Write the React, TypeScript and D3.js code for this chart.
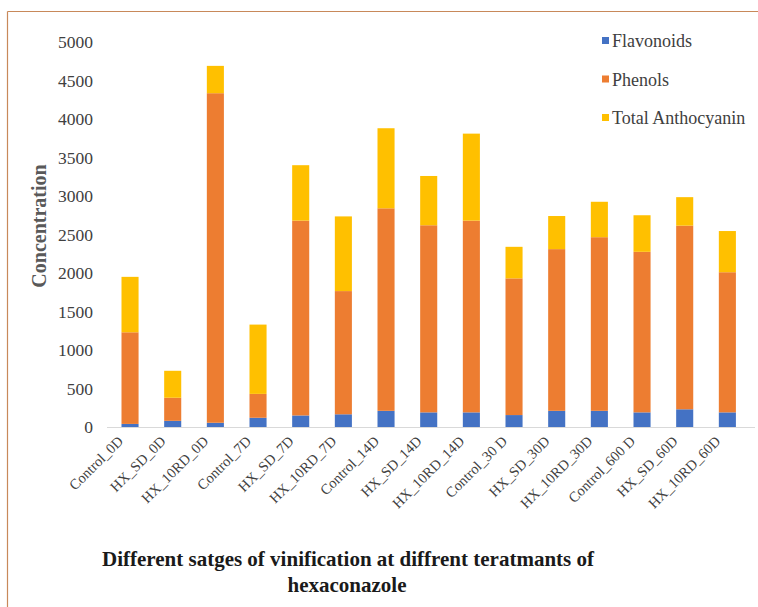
import React from "react";
import * as d3 from "d3";

const categories = [
  "Control_0D", "HX_SD_0D", "HX_10RD_0D", "Control_7D", "HX_SD_7D", "HX_10RD_7D",
  "Control_14D", "HX_SD_14D", "HX_10RD_14D", "Control_30 D", "HX_SD_30D", "HX_10RD_30D",
  "Control_600 D", "HX_SD_60D", "HX_10RD_60D",
];
const flavonoids = [40, 80, 55, 120, 150, 165, 210, 190, 190, 155, 210, 210, 190, 230, 190];
const phenols = [1190, 300, 4280, 310, 2530, 1600, 2630, 2430, 2490, 1775, 2100, 2255, 2085, 2385, 1820];
const anthocyanin = [720, 350, 355, 900, 720, 970, 1040, 640, 1130, 410, 430, 460, 475, 370, 535];
const seriesNames = ["Flavonoids", "Phenols", "Total Anthocyanin"];
const seriesColors = ["#4472C4", "#ED7D31", "#FFC000"];
const yTicks = [0, 500, 1000, 1500, 2000, 2500, 3000, 3500, 4000, 4500, 5000];

const W = 758;
const H = 607;
const SERIF = "Liberation Serif, Times New Roman, serif";

export default function App() {
  const rows = categories.map((c, i) => ({
    cat: c,
    Flavonoids: flavonoids[i],
    Phenols: phenols[i],
    "Total Anthocyanin": anthocyanin[i],
  }));
  const stack = d3.stack<any>().keys(seriesNames)(rows);

  const x = d3.scaleBand().domain(categories).range([108.7, 748.7]).paddingInner(0.6).paddingOuter(0.3);
  const y = d3.scaleLinear().domain([0, 5000]).range([427, 42]);

  return (
    <svg width={W} height={H} style={{ position: "absolute", left: 0, top: 0, background: "#fff" }}>
      <rect x={0} y={0} width={W} height={H} fill="#fff" />
      {/* frame */}
      <line x1={7.5} y1={11.5} x2={W} y2={11.5} stroke="#C8895A" strokeWidth={1.2} />
      <line x1={7.5} y1={11.5} x2={7.5} y2={H} stroke="#C8895A" strokeWidth={1.2} />

      {/* y tick labels */}
      {yTicks.map((t) => (
        <text key={t} x={93} y={y(t)} dy="0.35em" textAnchor="end" style={{ fontFamily: SERIF }} fontSize={17.5} fill="#404040">
          {t}
        </text>
      ))}

      {/* bars */}
      {stack.map((s, si) => (
        <g key={s.key} fill={seriesColors[si]}>
          {s.map((d, i) => (
            <rect
              key={i}
              x={x(categories[i])}
              width={x.bandwidth()}
              y={y(d[1])}
              height={y(d[0]) - y(d[1])}
            />
          ))}
        </g>
      ))}

      {/* baseline */}
      <line x1={107} x2={755} y1={y(0) + 0.5} y2={y(0) + 0.5} stroke="#D9D9D9" strokeWidth={1.2} />

      {/* x labels */}
      {categories.map((c) => {
        const cx = (x(c) as number) + x.bandwidth() / 2;
        return (
          <text
            key={c}
            transform={`translate(${cx - 6},${y(0) + 15}) rotate(-45)`}
            textAnchor="end"
            style={{ fontFamily: SERIF }}
            fontSize={14.5}
            fill="#404040"
          >
            {c}
          </text>
        );
      })}

      {/* y title */}
      <text
        transform={`translate(46,226) rotate(-90)`}
        textAnchor="middle"
        style={{ fontFamily: SERIF }}
        fontSize={20}
        fontWeight="bold"
        fill="#595959"
      >
        Concentration
      </text>

      {/* legend */}
      {seriesNames.map((n, i) => (
        <g key={n} transform={`translate(602,${41 + i * 38.5})`}>
          <rect x={0} y={-4} width={7} height={7} fill={seriesColors[i]} />
          <text x={10} y={0} dy="0.35em" style={{ fontFamily: SERIF }} fontSize={18} fill="#404040">
            {n}
          </text>
        </g>
      ))}

      {/* x title */}
      <text x={348} y={566} textAnchor="middle" style={{ fontFamily: SERIF }} fontSize={21} fontWeight="bold" fill="#1a1a1a">
        Different satges of vinification at diffrent teratmants of
      </text>
      <text x={347} y={592} textAnchor="middle" style={{ fontFamily: SERIF }} fontSize={21} fontWeight="bold" fill="#1a1a1a">
        hexaconazole
      </text>
    </svg>
  );
}
